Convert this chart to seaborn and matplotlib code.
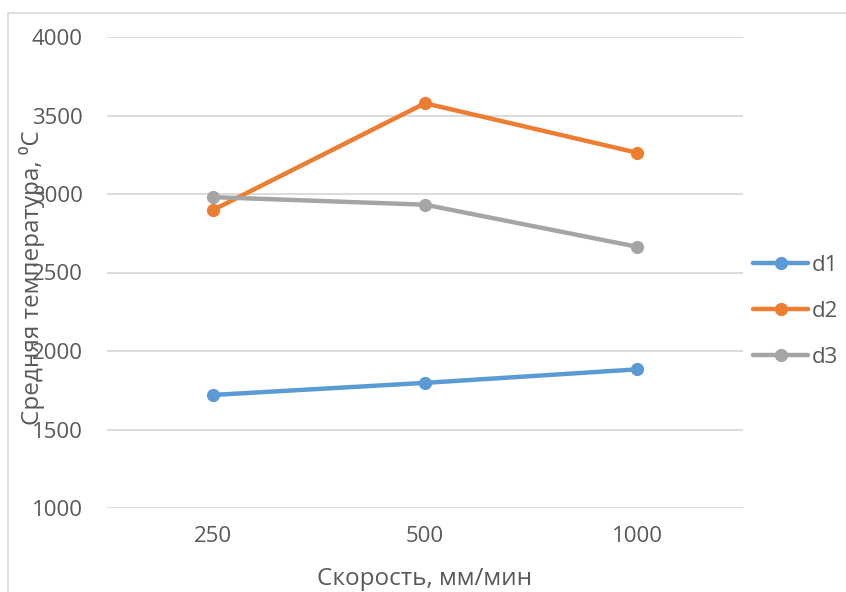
import matplotlib
matplotlib.use("Agg")
import matplotlib.pyplot as plt
import seaborn as sns
import pandas as pd
from matplotlib.patches import Rectangle

# Data: average temperature vs. cutting speed for three series
speeds = ["250", "500", "1000"]
d1 = [1720, 1797, 1883]
d2 = [2898, 3578, 3263]
d3 = [2980, 2932, 2664]
series_names = ["d1", "d2", "d3"]
y_ticks = [1000, 1500, 2000, 2500, 3000, 3500, 4000]

colors = ["#5B9BD5", "#ED7D31", "#A5A5A5"]
text_color = "#595959"
grid_color = "#D9D9D9"

rows = []
for name, vals in zip(series_names, [d1, d2, d3]):
    for i, (s, v) in enumerate(zip(speeds, vals)):
        rows.append({"pos": i, "speed": s, "temp": v, "series": name})
df = pd.DataFrame(rows)

sns.set_theme(style="white")
plt.rcParams["font.family"] = ["Open Sans", "DejaVu Sans"]

fig = plt.figure(figsize=(8.46, 5.92), dpi=100)
ax = fig.add_axes([107 / 846, 1 - 508 / 592, (743 - 107) / 846, (508 - 37) / 592])

sns.lineplot(
    data=df, x="pos", y="temp", hue="series", palette=colors,
    marker="o", markersize=9.5, markeredgewidth=0, linewidth=3.2,
    sort=False, ax=ax, legend=True,
)

ax.set_xlim(-0.5, 2.5)
ax.set_ylim(1000, 4000)
ax.set_yticks(y_ticks)
ax.set_xticks(range(len(speeds)))
ax.set_xticklabels(speeds)
ax.yaxis.grid(True, color=grid_color, linewidth=1.3)
ax.xaxis.grid(False)
for sp in ax.spines.values():
    sp.set_visible(False)
ax.tick_params(axis="both", length=0, labelsize=16, colors=text_color)
ax.tick_params(axis="y", pad=17.3)
ax.tick_params(axis="x", pad=13)

ax.set_xlabel("Скорость, мм/мин", fontsize=17.5, color=text_color)
ax.xaxis.set_label_coords(0.5, -0.125)
ax.set_ylabel("Средняя температура, ⁰C", fontsize=17.5, color=text_color)
ax.yaxis.set_label_coords(-0.097, 0.49)

leg = ax.legend(
    loc="center left", bbox_to_anchor=((753 - 107) / 636, 0.418), frameon=False,
    fontsize=16, handlelength=2.48, handletextpad=0.18, labelspacing=1.13,
    borderaxespad=0, borderpad=0,
)
for t in leg.get_texts():
    t.set_color(text_color)

# Outer chart-area frame
fig.patches.append(Rectangle((8 / 846, -0.05), 1.0, 1 - 13 / 592 + 0.05,
                             transform=fig.transFigure, fill=False,
                             edgecolor=grid_color, linewidth=1.2))

fig.savefig("out.png", dpi=100)
